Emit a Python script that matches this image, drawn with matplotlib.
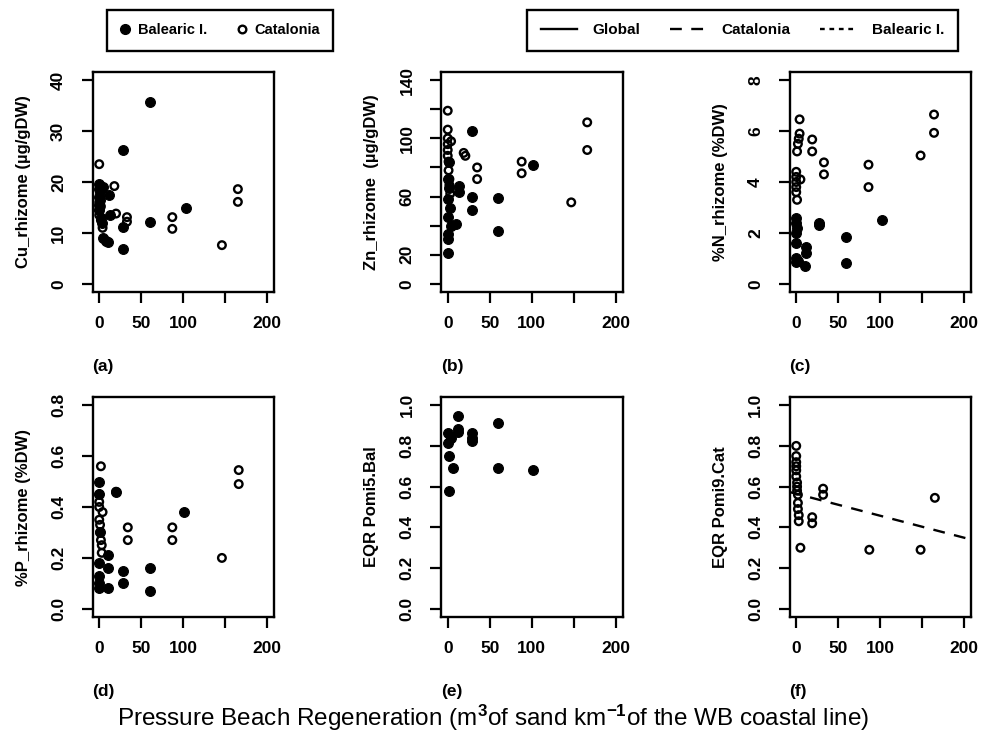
import numpy as np
import matplotlib
matplotlib.use('Agg')
import matplotlib.pyplot as plt
from matplotlib.lines import Line2D

plt.rcParams['font.family'] = ['Liberation Sans', 'DejaVu Sans']
plt.rcParams['font.weight'] = 'bold'
plt.rcParams['mathtext.fontset'] = 'custom'
plt.rcParams['mathtext.rm'] = 'Liberation Sans'
plt.rcParams['mathtext.default'] = 'rm'

# ---- data ----
cu_bal_x = [0, 0, 0, 0, 0, 1, 2, 3, 5, 5, 8, 10, 12, 13, 28, 28, 28, 60, 60, 103]
cu_bal_y = [19.7, 18.6, 17.0, 15.5, 14.5, 16.4, 13.0, 11.9, 9.0, 19.0, 8.5, 8.2, 17.5, 13.5, 26.2, 11.2, 6.9, 35.8, 12.1, 14.8]
cu_cat_x = [0, 0, 0, 0, 1, 2, 2, 3, 4, 18, 20, 33, 33, 87, 87, 146, 165, 165]
cu_cat_y = [23.5, 16.0, 14.5, 13.5, 17.8, 12.5, 15.2, 18.5, 11.0, 19.2, 13.8, 13.1, 12.2, 13.1, 10.8, 7.6, 18.6, 16.1]

zn_bal_x = [0, 0, 0, 0, 0, 0, 1, 2, 3, 4, 10, 13, 13, 29, 29, 29, 60, 60, 101]
zn_bal_y = [21, 31, 34, 46, 58, 72, 84, 66, 52, 40, 41, 67, 63, 105, 60, 51, 59, 36, 82]
zn_cat_x = [0, 0, 0, 0, 0, 0, 1, 1, 2, 2, 3, 4, 19, 21, 35, 35, 88, 88, 147, 166, 166]
zn_cat_y = [119, 106, 100, 96, 92, 88, 84, 78, 72, 68, 62, 98, 90, 88, 80, 72, 84, 76, 56, 111, 92]

n_bal_x = [0, 0, 0, 0, 0, 0, 1, 2, 10, 12, 12, 27, 27, 59, 59, 102]
n_bal_y = [2.6, 2.4, 2.0, 1.6, 1.0, 0.85, 2.2, 0.9, 0.7, 1.46, 1.2, 2.4, 2.3, 1.85, 0.82, 2.52]
n_cat_x = [0, 0, 0, 0, 0, 1, 1, 2, 3, 4, 4, 5, 19, 19, 33, 33, 86, 86, 148, 164, 164]
n_cat_y = [4.4, 4.2, 4.0, 3.8, 3.6, 3.3, 5.2, 5.5, 5.7, 5.9, 6.46, 4.1, 5.67, 5.2, 4.77, 4.3, 4.68, 3.8, 5.04, 5.93, 6.65]

p_bal_x = [0, 0, 0, 0, 0, 0, 1, 10, 10, 10, 20, 28, 28, 60, 60, 101]
p_bal_y = [0.50, 0.45, 0.18, 0.13, 0.10, 0.08, 0.30, 0.21, 0.16, 0.08, 0.46, 0.15, 0.10, 0.16, 0.07, 0.38]
p_cat_x = [0, 0, 0, 0, 1, 1, 2, 2, 3, 3, 4, 20, 34, 34, 87, 87, 146, 166, 166]
p_cat_y = [0.45, 0.42, 0.40, 0.35, 0.33, 0.30, 0.56, 0.27, 0.25, 0.22, 0.38, 0.46, 0.32, 0.27, 0.32, 0.27, 0.20, 0.545, 0.49]

e_bal_x = [0, 0, 2, 2, 4, 6, 12, 12, 12, 29, 29, 29, 60, 60, 102]
e_bal_y = [0.865, 0.815, 0.75, 0.58, 0.84, 0.69, 0.945, 0.885, 0.87, 0.865, 0.84, 0.825, 0.91, 0.69, 0.68]

f_cat_x = [0, 0, 0, 0, 0, 0, 1, 1, 1, 2, 2, 2, 3, 3, 5, 19, 19, 32, 32, 87, 148, 165]
f_cat_y = [0.80, 0.75, 0.72, 0.70, 0.68, 0.65, 0.62, 0.60, 0.58, 0.56, 0.52, 0.49, 0.46, 0.43, 0.30,
           0.45, 0.42, 0.59, 0.56, 0.29, 0.29, 0.545]
f_fit = (0.565, -0.00108)   # intercept, slope (Catalonia)

x_ticks = [0, 50, 100, 150, 200]
x_ticklabels = ['0', '50', '100', '', '200']

panels = [
    ('(a)', 'Cu_rhizome (\u00b5g/gDW)', cu_bal_x, cu_bal_y, cu_cat_x, cu_cat_y,
     [0, 10, 20, 30, 40], ['0', '10', '20', '30', '40']),
    ('(b)', 'Zn_rhizome  (\u00b5g/gDW)', zn_bal_x, zn_bal_y, zn_cat_x, zn_cat_y,
     [0, 20, 40, 60, 80, 100, 120, 140], ['0', '20', '', '60', '', '100', '', '140']),
    ('(c)', '%N_rhizome (%DW)', n_bal_x, n_bal_y, n_cat_x, n_cat_y,
     [0, 2, 4, 6, 8], ['0', '2', '4', '6', '8']),
    ('(d)', '%P_rhizome (%DW)', p_bal_x, p_bal_y, p_cat_x, p_cat_y,
     [0, 0.2, 0.4, 0.6, 0.8], ['0.0', '0.2', '0.4', '0.6', '0.8']),
    ('(e)', 'EQR Pomi5.Bal', e_bal_x, e_bal_y, [], [],
     [0, 0.2, 0.4, 0.6, 0.8, 1.0], ['0.0', '0.2', '0.4', '0.6', '0.8', '1.0']),
    ('(f)', 'EQR Pomi9.Cat', [], [], f_cat_x, f_cat_y,
     [0, 0.2, 0.4, 0.6, 0.8, 1.0], ['0.0', '0.2', '0.4', '0.6', '0.8', '1.0']),
]

W, H = 981, 743
fig = plt.figure(figsize=(W / 100, H / 100), dpi=100)

col_left = [92.5, 441, 789.5]
row_top = [72, 397]
box_w, box_h = 181.5, 220

for i, (tag, ylab, bx, by, cx, cy, yt, ytl) in enumerate(panels):
    r, c = divmod(i, 3)
    ax = fig.add_axes([col_left[c] / W, 1 - (row_top[r] + box_h) / H, box_w / W, box_h / H])
    if bx:
        ax.scatter(bx, by, s=50, c='black', edgecolors='black', linewidths=0.8, zorder=3)
    if cx:
        ax.scatter(cx, cy, s=30, facecolors='none', edgecolors='black', linewidths=1.7, zorder=3)
    lo, hi = yt[0], yt[-1]
    pad = 0.04 * (hi - lo)
    ax.set_ylim(lo - pad, hi + pad)
    ax.set_xlim(-8, 208)
    ax.set_xticks(x_ticks)
    ax.set_xticklabels(x_ticklabels)
    ax.set_yticks(yt)
    ax.set_yticklabels(ytl, rotation=90, va='center')
    ax.tick_params(direction='out', length=8, width=1.6, labelsize=12.5)
    ax.tick_params(axis='x', pad=9)
    ax.tick_params(axis='y', pad=11)
    for s in ax.spines.values():
        s.set_linewidth(1.7)
    ax.set_ylabel(ylab, fontsize=12, fontweight='bold')
    ax.yaxis.set_label_coords(-0.34, 0.5)
    ax.text(0.0, -0.34, tag, transform=ax.transAxes, fontsize=12.5, ha='left', va='center')
    if tag == '(f)':
        xs = np.array([-8, 208])
        ax.plot(xs, f_fit[0] + f_fit[1] * xs, color='black', lw=1.7, ls=(0, (5, 4)))

fig.text(493 / W, 1 - 718 / H,
         'Pressure Beach Regeneration (m$^{3}$of sand km$^{-1}$of the WB coastal line)',
         ha='center', va='center', fontsize=17.5, fontweight='normal')

h1 = [Line2D([], [], ls='none', marker='o', ms=7, mfc='black', mec='black'),
      Line2D([], [], ls='none', marker='o', ms=5.5, mfc='none', mec='black', mew=1.7)]
leg1 = fig.legend(h1, ['Balearic I.', 'Catalonia'], ncol=2, mode='expand',
                  loc='center', bbox_to_anchor=(107 / W, 1 - 52 / H, 226 / W, 43 / H),
                  fancybox=False, edgecolor='black', framealpha=1, fontsize=10.5,
                  handlelength=0.7, handletextpad=0.5, borderpad=0.9, borderaxespad=0,
                  columnspacing=0.6)
leg1.get_frame().set_linewidth(1.7)

h2 = [Line2D([], [], color='black', lw=1.7, ls='-'),
      Line2D([], [], color='black', lw=1.7, ls=(0, (5, 4))),
      Line2D([], [], color='black', lw=1.7, ls=(0, (2, 2)))]
leg2 = fig.legend(h2, ['Global', 'Catalonia', 'Balearic I.'], ncol=3, mode='expand',
                  loc='center', bbox_to_anchor=(527 / W, 1 - 52 / H, 431 / W, 43 / H),
                  fancybox=False, edgecolor='black', framealpha=1, fontsize=11,
                  handlelength=2.4, handletextpad=1.0, borderpad=0.9, borderaxespad=0,
                  columnspacing=2.0)
leg2.get_frame().set_linewidth(1.7)

fig.savefig('out.png', dpi=100)
